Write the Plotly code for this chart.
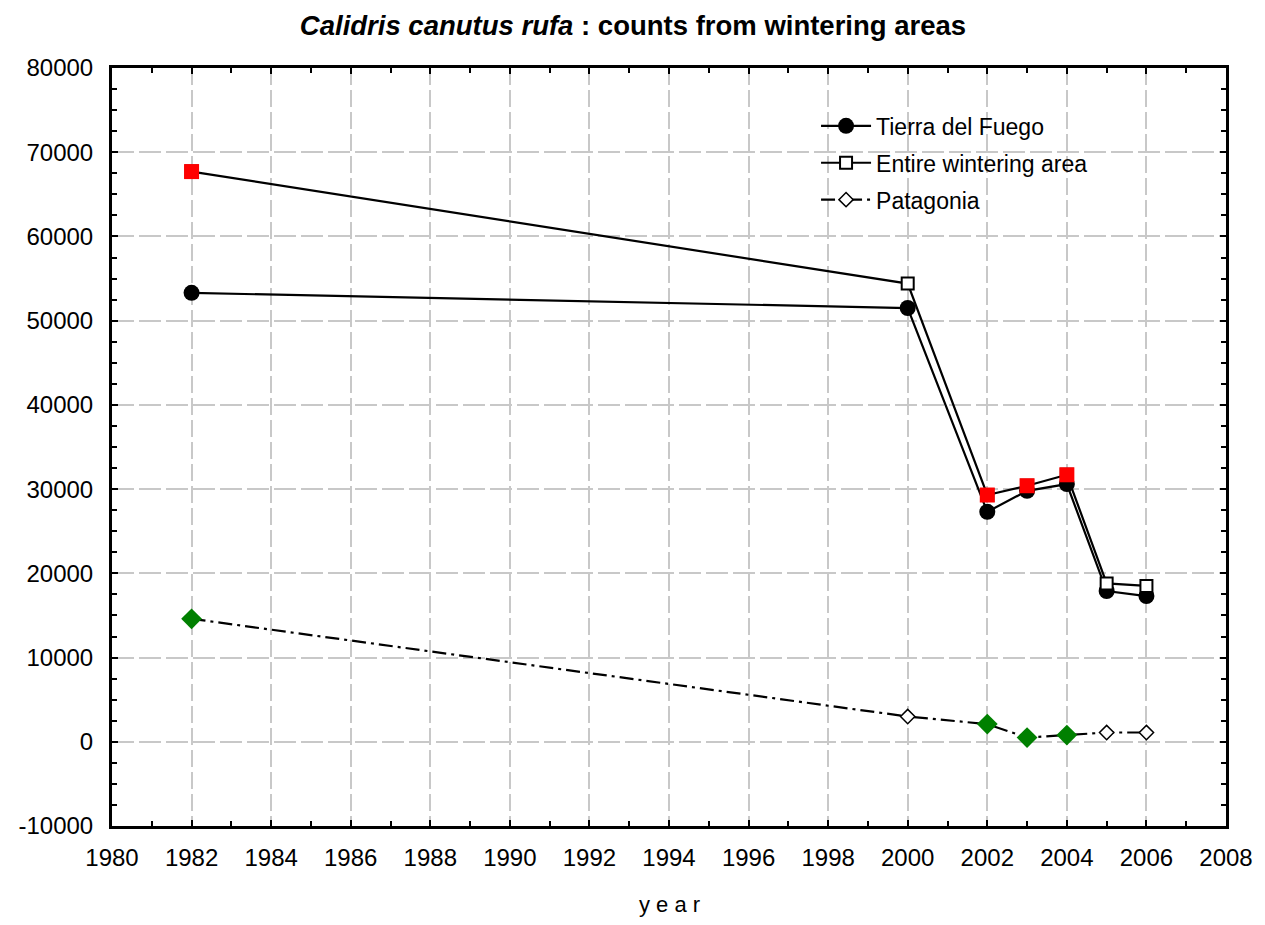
import plotly.graph_objects as go

# ── Data ─────────────────────────────────────────────────────────────────────
YEARS = [1982, 2000, 2002, 2003, 2004, 2005, 2006]
TIERRA_DEL_FUEGO = [53300, 51500, 27300, 29800, 30600, 17900, 17300]
ENTIRE_AREA = [67700, 54400, 29300, 30400, 31700, 18800, 18500]
PATAGONIA = [14600, 3000, 2100, 500, 800, 1100, 1100]
# years whose points are drawn filled (red squares / green diamonds)
HIGHLIGHT = [True, False, True, True, True, False, False]

Y_TICKS = [-10000, 0, 10000, 20000, 30000, 40000, 50000, 60000, 70000, 80000]
Y_LABELS = ["-10000", "0", "10000", "20000", "30000", "40000", "50000",
            "60000", "70000", "80000"]

GRID = "#c8c8c8"
FONT = "Liberation Sans, Arial, sans-serif"


def _pick(values):
    return [v for v, h in zip(values, HIGHLIGHT) if h]


fig = go.Figure()

fig.add_trace(
    go.Scatter(
        x=YEARS,
        y=TIERRA_DEL_FUEGO,
        name="Tierra del Fuego",
        legendgroup="a",
        mode="lines+markers",
        line=dict(color="black", width=2.2),
        marker=dict(symbol="circle", size=16, color="black"),
    )
)
fig.add_trace(
    go.Scatter(
        x=YEARS,
        y=ENTIRE_AREA,
        name="Entire wintering area",
        legendgroup="b",
        mode="lines+markers",
        line=dict(color="black", width=2.2),
        marker=dict(
            symbol="square", size=12, color="white", line=dict(color="black", width=2)
        ),
    )
)
fig.add_trace(
    go.Scatter(
        x=YEARS,
        y=PATAGONIA,
        name="Patagonia",
        legendgroup="c",
        mode="lines+markers",
        line=dict(color="black", width=2.2, dash="14px,5px,3px,5px"),
        marker=dict(
            symbol="diamond", size=11, color="white", line=dict(color="black", width=1.5)
        ),
    )
)

# filled highlight markers drawn over the hollow ones
fig.add_trace(
    go.Scatter(
        x=_pick(YEARS),
        y=_pick(ENTIRE_AREA),
        mode="markers",
        showlegend=False,
        marker=dict(symbol="square", size=15, color="#ff0000"),
    )
)
fig.add_trace(
    go.Scatter(
        x=_pick(YEARS),
        y=_pick(PATAGONIA),
        mode="markers",
        showlegend=False,
        marker=dict(symbol="diamond", size=16, color="#008000"),
    )
)

fig.update_layout(
    width=1250,
    height=910,
    paper_bgcolor="white",
    plot_bgcolor="white",
    font=dict(family=FONT, color="black", size=22),
    margin=dict(l=104, r=32, t=60, b=92),
    title=dict(
        text="<b><i>Calidris canutus rufa</i> : counts from wintering areas</b>",
        x=0.5,
        xanchor="center",
        y=0.981,
        yanchor="middle",
        font=dict(size=27.5, color="black"),
    ),
    legend=dict(
        x=0.632,
        y=0.952,
        xanchor="left",
        yanchor="top",
        bgcolor="rgba(0,0,0,0)",
        font=dict(size=23),
        itemwidth=50,
        tracegroupgap=4,
    ),
    showlegend=True,
)

# x-axis title placed as an annotation so it sits lower than standoff allows
fig.add_annotation(
    text="y e a r",
    xref="paper",
    yref="paper",
    x=0.5,
    y=-0.104,
    xanchor="center",
    yanchor="middle",
    showarrow=False,
    font=dict(size=22, color="black"),
)

fig.update_xaxes(
    range=[1980, 2008],
    dtick=2,
    tick0=1980,
    automargin=False,
    showgrid=True,
    gridcolor=GRID,
    gridwidth=2,
    griddash="17px,5px",
    zeroline=False,
    showline=True,
    linecolor="black",
    linewidth=3,
    mirror="ticks",
    ticks="inside",
    ticklen=6,
    tickwidth=2,
    tickcolor="black",
    minor=dict(ticks="inside", dtick=1, ticklen=5, tickwidth=2, tickcolor="black"),
    tickfont=dict(size=24),
    ticklabelstandoff=8,
)
fig.update_yaxes(
    range=[-10000, 80000],
    tickvals=Y_TICKS,
    ticktext=Y_LABELS,
    automargin=False,
    showgrid=True,
    gridcolor=GRID,
    gridwidth=2,
    griddash="22px,5px",
    zeroline=False,
    showline=True,
    linecolor="black",
    linewidth=3,
    mirror="ticks",
    ticks="inside",
    ticklen=6,
    tickwidth=2,
    tickcolor="black",
    minor=dict(ticks="inside", dtick=2500, ticklen=5, tickwidth=2, tickcolor="black"),
    tickfont=dict(size=24),
    ticklabelstandoff=11,
)

fig.write_html("out.html")
